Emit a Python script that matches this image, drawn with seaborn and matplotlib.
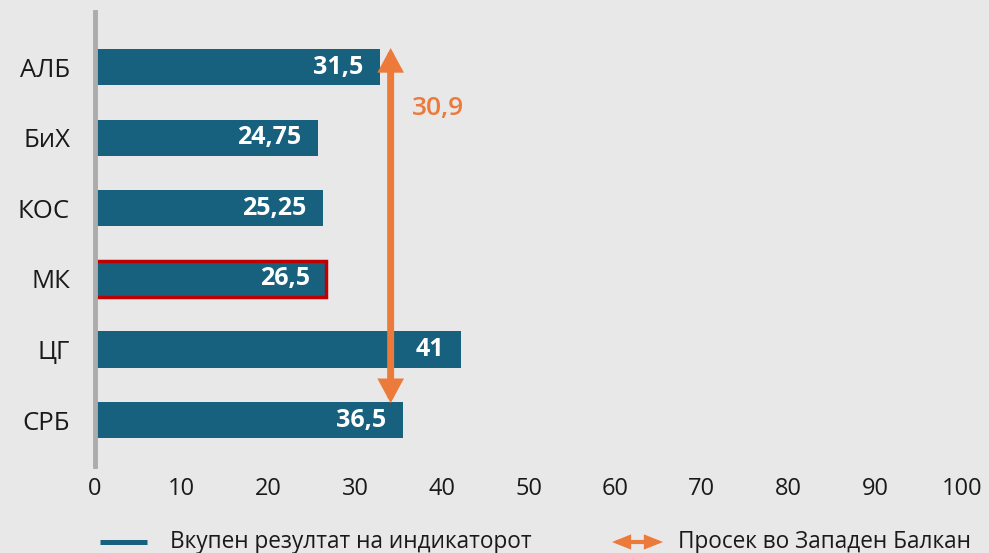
import matplotlib.pyplot as plt
import seaborn as sns
from matplotlib.lines import Line2D

# data as drawn in the reference
countries = ['АЛБ', 'БиХ', 'КОС', 'МК', 'ЦГ', 'СРБ']
bar_lengths = [32.9, 25.7, 26.3, 26.7, 42.2, 35.5]
bar_labels = ['31,5', '24,75', '25,25', '26,5', '41', '36,5']
highlight = 'МК'
avg_pos = 34.1
avg_label = '30,9'
x_ticks = list(range(0, 101, 10))

legend_bar = 'Вкупен резултат на индикаторот'
legend_avg = 'Просек во Западен Балкан'

BG = '#e8e8e8'
BLUE = '#17617f'
ORANGE = '#ec7a3b'
RED = '#c00000'
TXT = '#1a1a1a'

sns.set_theme(style='white', rc={'axes.facecolor': BG, 'figure.facecolor': BG})
plt.rcParams['font.family'] = ['Open Sans', 'DejaVu Sans']

fig = plt.figure(figsize=(9.89, 5.53), dpi=100)
ax = fig.add_axes([95 / 989, 87 / 553, 867 / 989, 454 / 553])

sns.barplot(x=bar_lengths, y=countries, orient='h', color=BLUE, width=0.51,
            saturation=1, linewidth=0, ax=ax, zorder=2)

for patch, name, lab in zip(ax.patches, countries, bar_labels):
    if name == highlight:
        patch.set_edgecolor(RED)
        patch.set_linewidth(2.5)
    ax.annotate(lab, xy=(patch.get_width(), patch.get_y() + patch.get_height() / 2),
                xytext=(-12, 0), textcoords='offset points', ha='right', va='center',
                color='white', fontweight='bold', fontsize=18, zorder=4)

# average arrow
ax.annotate('', xy=(avg_pos, 4.76), xytext=(avg_pos, -0.27),
            arrowprops=dict(arrowstyle='<|-|>,head_length=0.5,head_width=0.27',
                            mutation_scale=20, color=ORANGE, lw=5, joinstyle='miter',
                            shrinkA=0, shrinkB=0), zorder=5)
ax.annotate(avg_label, xy=(avg_pos, 0.58), xytext=(15, 0), textcoords='offset points',
            ha='left', va='center', color=ORANGE, fontsize=19, fontweight='semibold')

ax.set_xlim(0, 100)
ax.set_ylim(5.65, -0.78)
ax.set_xticks(x_ticks)
ax.set(xlabel='', ylabel='')
ax.tick_params(axis='x', length=0, pad=8, labelsize=17, labelcolor=TXT)
ax.tick_params(axis='y', length=0, pad=18, labelsize=18.5, labelcolor=TXT)
sns.despine(ax=ax, left=False, bottom=True)
ax.spines['left'].set_color('#ababab')
ax.spines['left'].set_linewidth(3.5)
ax.spines['left'].set_zorder(3)

# legend
ly = 11 / 553
fig.add_artist(Line2D([100 / 989, 147 / 989], [ly, ly], transform=fig.transFigure,
                      color=BLUE, lw=3.6, solid_capstyle='butt'))
fig.text(170 / 989, ly, legend_bar, va='center', ha='left', fontsize=16.3, color=TXT)
ax.annotate('', xy=(663 / 989, ly), xytext=(612 / 989, ly), xycoords='figure fraction',
            textcoords='figure fraction',
            arrowprops=dict(arrowstyle='<|-|>,head_length=0.55,head_width=0.22',
                            mutation_scale=15, color=ORANGE, lw=3, joinstyle='miter',
                            shrinkA=0, shrinkB=0), annotation_clip=False)
fig.text(678 / 989, ly, legend_avg, va='center', ha='left', fontsize=16.3, color=TXT)

fig.savefig('out.png', dpi=100, facecolor=BG)
